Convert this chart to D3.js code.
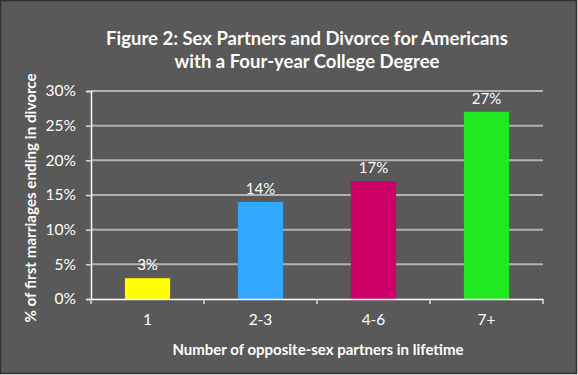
<!DOCTYPE html>
<html><head><meta charset="utf-8">
<script src="https://cdnjs.cloudflare.com/ajax/libs/d3/7.8.5/d3.min.js"></script>
<style>body{margin:0;background:#fff}svg{display:block}</style>
</head><body><svg id="c" width="578" height="375"></svg>
<script>
const categories = ["1", "2-3", "4-6", "7+"];
const values = [3, 14, 17, 27];
const colors = ["#ffff00", "#33a6ff", "#cc0066", "#22e822"];
const yTicks = [0, 5, 10, 15, 20, 25, 30];
const titleLines = ["Figure 2: Sex Partners and Divorce for Americans", "with a Four-year College Degree"];
const xTitle = "Number of opposite-sex partners in lifetime";
const yTitle = "% of first marriages ending in divorce";

const svg = d3.select("#c");
const W = 578, H = 375;
const font = "Lato, 'Open Sans', sans-serif";
svg.append("rect").attr("x",0.5).attr("y",0.5).attr("width",W-2).attr("height",H-2)
  .attr("fill","#595959").attr("stroke","#2f2f2f").attr("stroke-width",1.5);

const m = {l:91, r:543, t:91, b:299};
const x = d3.scaleBand().domain(categories).range([m.l, m.r]).paddingInner(0.6).paddingOuter(0.3);
const y = d3.scaleLinear().domain([0,30]).range([m.b, m.t]);

// gridlines
svg.append("g").selectAll("line").data(yTicks.filter(d=>d>0)).join("line")
  .attr("x1", m.l).attr("x2", m.r).attr("y1", d=>y(d)).attr("y2", d=>y(d))
  .attr("stroke","#b3b3b3").attr("stroke-width",2);

// y axis
const ya = svg.append("g").attr("transform",`translate(${m.l},0)`)
  .call(d3.axisLeft(y).tickValues(yTicks).tickFormat(d=>d+"%").tickSize(5).tickPadding(10));
ya.select(".domain").attr("stroke","#ffffff").attr("stroke-width",1.5);
ya.selectAll(".tick line").attr("stroke","#dddddd").attr("stroke-width",1.5);
ya.selectAll("text").attr("fill","#ffffff").style("font-family",font).style("font-size","15.5px");

// bars
svg.append("g").selectAll("rect").data(values).join("rect")
  .attr("x",(d,i)=>x(categories[i])).attr("width",x.bandwidth())
  .attr("y",d=>y(d)).attr("height",d=>y(0)-y(d)).attr("fill",(d,i)=>colors[i]);

// value labels
svg.append("g").selectAll("text").data(values).join("text")
  .attr("x",(d,i)=>x(categories[i])+x.bandwidth()/2).attr("y",d=>y(d)-8)
  .attr("text-anchor","middle").attr("fill","#ffffff")
  .style("font-family",font).style("font-size","15px").text(d=>d+"%");

// x axis
const xb = d3.scaleBand().domain(categories).range([m.l, m.r]);
const xa = svg.append("g").attr("transform",`translate(0,${m.b})`)
  .call(d3.axisBottom(xb).tickSize(0).tickPadding(15));
xa.select(".domain").attr("stroke","#ffffff").attr("stroke-width",1.5);
xa.selectAll("text").attr("fill","#ffffff").style("font-family",font).style("font-size","15.5px");
// category separator ticks
xa.selectAll(".sep").data(d3.range(categories.length+1)).join("line").attr("class","sep")
  .attr("x1",i=>m.l+i*xb.step()).attr("x2",i=>m.l+i*xb.step()).attr("y1",0).attr("y2",5)
  .attr("stroke","#dddddd").attr("stroke-width",1.5);

// titles
svg.append("g").selectAll("text").data(titleLines).join("text")
  .attr("x",307).attr("y",(d,i)=>45+i*23).attr("text-anchor","middle")
  .attr("fill","#ffffff").style("font-family",font).style("font-weight","bold").style("font-size","18.5px")
  .text(d=>d);

svg.append("text").attr("x",318).attr("y",355).attr("text-anchor","middle")
  .attr("fill","#ffffff").style("font-family",font).style("font-weight","bold").style("font-size","15px")
  .text(xTitle);

svg.append("text").attr("transform","translate(36,198) rotate(-90)").attr("text-anchor","middle")
  .attr("fill","#ffffff").style("font-family",font).style("font-weight","bold").style("font-size","15.2px")
  .text(yTitle);
</script></body></html>
